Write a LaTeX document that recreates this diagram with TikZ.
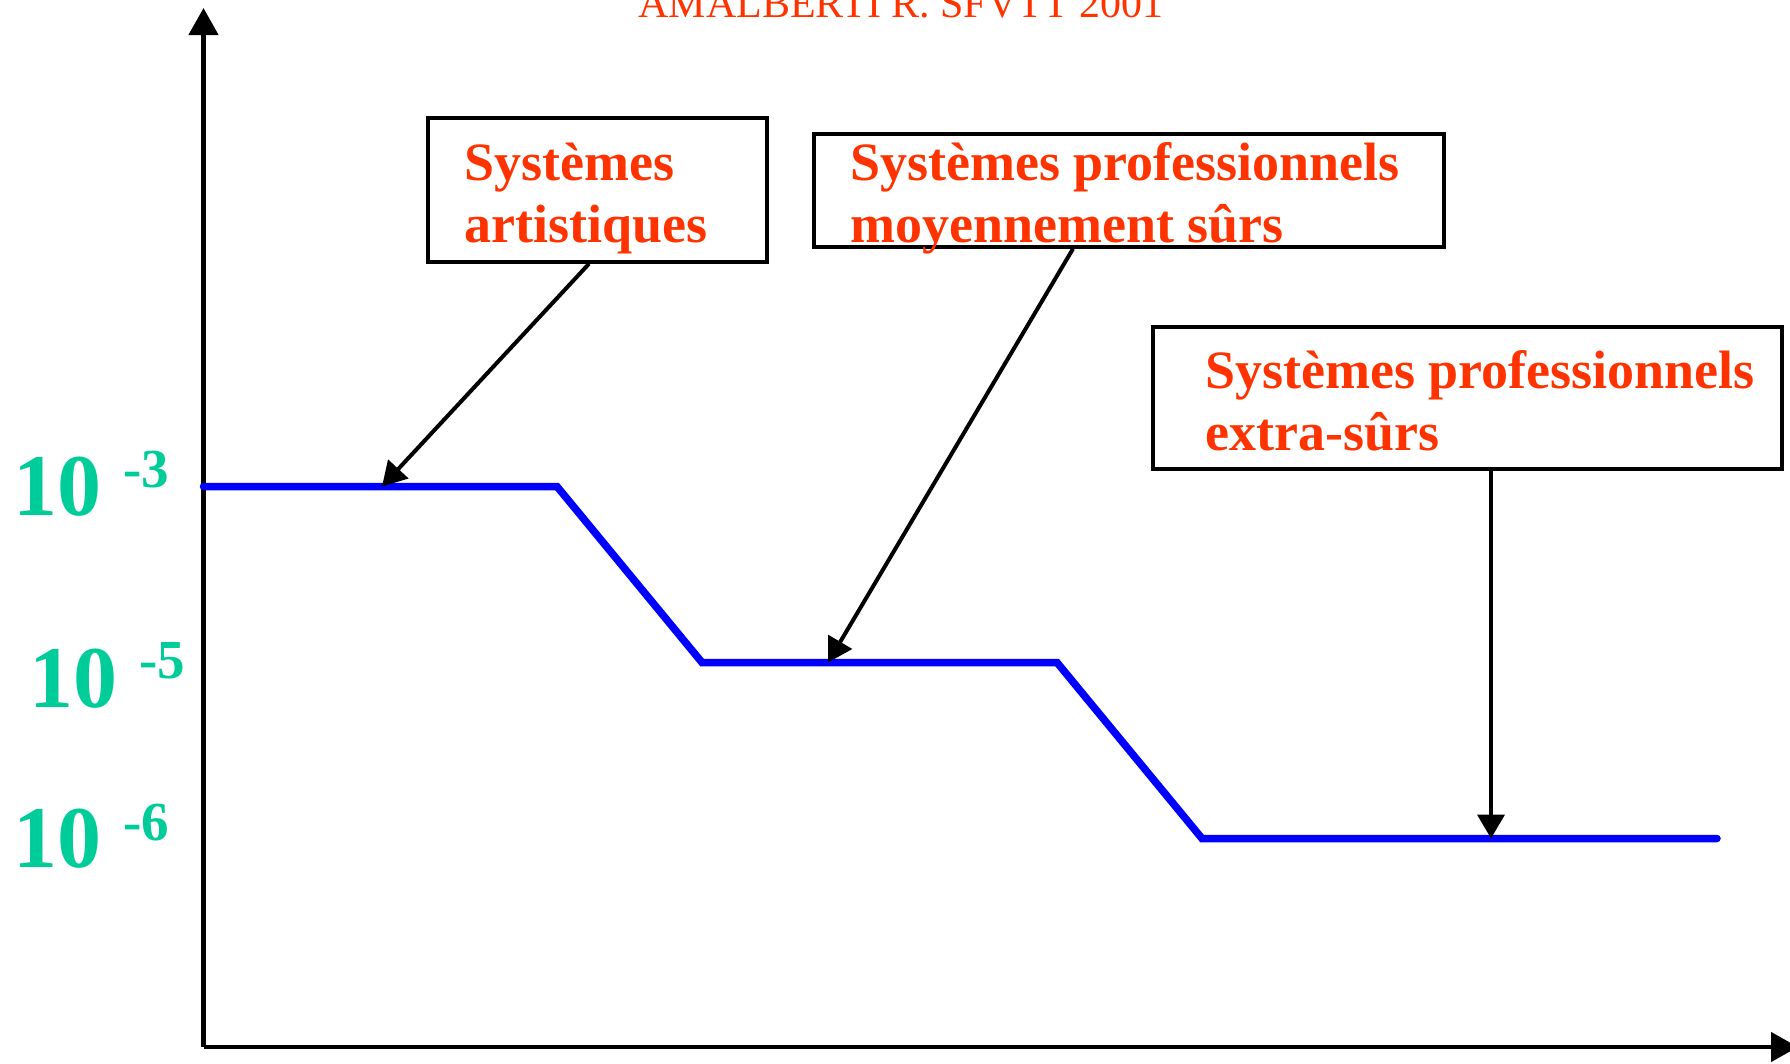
\documentclass[tikz,border=0pt]{standalone}
\usepackage{fontspec}
\setmainfont{Liberation Serif}
\usetikzlibrary{arrows.meta,calc}
\definecolor{labred}{HTML}{FF3300}
\definecolor{tickgreen}{HTML}{00CC99}
\definecolor{curveblue}{HTML}{0000FF}
\begin{document}
\begin{tikzpicture}[x=1pt,y=-1pt,
  axisline/.style={line width=4.5pt,-{Triangle[length=27pt,width=29pt]}},
  boxnode/.style={draw,line width=3.5pt,rectangle,inner sep=0pt},
  lbl/.style={anchor=base west,inner sep=0pt,text=labred,font=\fontsize{54}{63}\selectfont\bfseries},
  conn/.style={line width=4pt,-{Triangle[length=24pt,width=27pt]}},
  curveline/.style={line width=7.5pt,draw=curveblue,line cap=round,line join=miter},
  bigten/.style={anchor=base west,inner sep=0pt,text=tickgreen,font=\fontsize{88}{88}\selectfont\bfseries},
  expo/.style={anchor=base west,inner sep=0pt,text=tickgreen,font=\fontsize{55}{55}\selectfont\bfseries}
]
\useasboundingbox (0,0) rectangle (1790,1063);

% title (cut at top, as in the reference)
\node[anchor=base,inner sep=0pt,text=labred,font=\fontsize{42}{42}\selectfont] (title) at (901,17) {AMALBERTI R. SFVTT 2001};

% axes
\coordinate (O) at (203.5,1047);
\coordinate (ytop) at (203.5,8);
\coordinate (xend) at (1798,1047);
\draw[axisline] (O) -- (ytop);
\draw[axisline] (O) -- (xend);

% y labels
\node[bigten] (y3) at (13,515) {10};
\node[expo] (e3) at (123,487) {-3};
\node[bigten] (y5) at (29,707) {10};
\node[expo] (e5) at (139,678) {-5};
\node[bigten] (y6) at (13,867) {10};
\node[expo] (e6) at (123,840) {-6};

% blue curve
\coordinate (c0) at (203.5,486.5);
\coordinate (c1) at (557,486.5);
\coordinate (c2) at (702,662.5);
\coordinate (c3) at (1057,662.5);
\coordinate (c4) at (1202,838.5);
\coordinate (c5) at (1717,838.5);
\draw[curveline] (c0) -- (c1) -- (c2) -- (c3) -- (c4) -- (c5);

% boxes
\node[boxnode,minimum width=339pt,minimum height=144pt] (b1) at (597.5,190) {};
\node[boxnode,minimum width=630pt,minimum height=113pt] (b2) at (1129,190.5) {};
\node[boxnode,minimum width=629pt,minimum height=142pt] (b3) at (1467.5,398) {};

% box texts
\node[lbl] (l1a) at (464,180) {Systèmes};
\node[lbl] (l1b) at (464,242) {artistiques};
\node[lbl] (l2a) at (850,180) {Systèmes professionnels};
\node[lbl] (l2b) at (850,242) {moyennement sûrs};
\node[lbl] (l3a) at (1205,388) {Systèmes professionnels};
\node[lbl] (l3b) at (1205,450) {extra-sûrs};

% connectors
\coordinate (t1) at (382,486.5);
\coordinate (t2) at (828,662.5);
\coordinate (t3) at (1491,838.5);
\draw[conn] ($(b1.south)+(-8.5,0)$) -- (t1);
\draw[conn] ($(b2.south)+(-56,0)$) -- (t2);
\draw[conn] ($(b3.south)+(23.5,0)$) -- (t3);
\end{tikzpicture}
\end{document}
